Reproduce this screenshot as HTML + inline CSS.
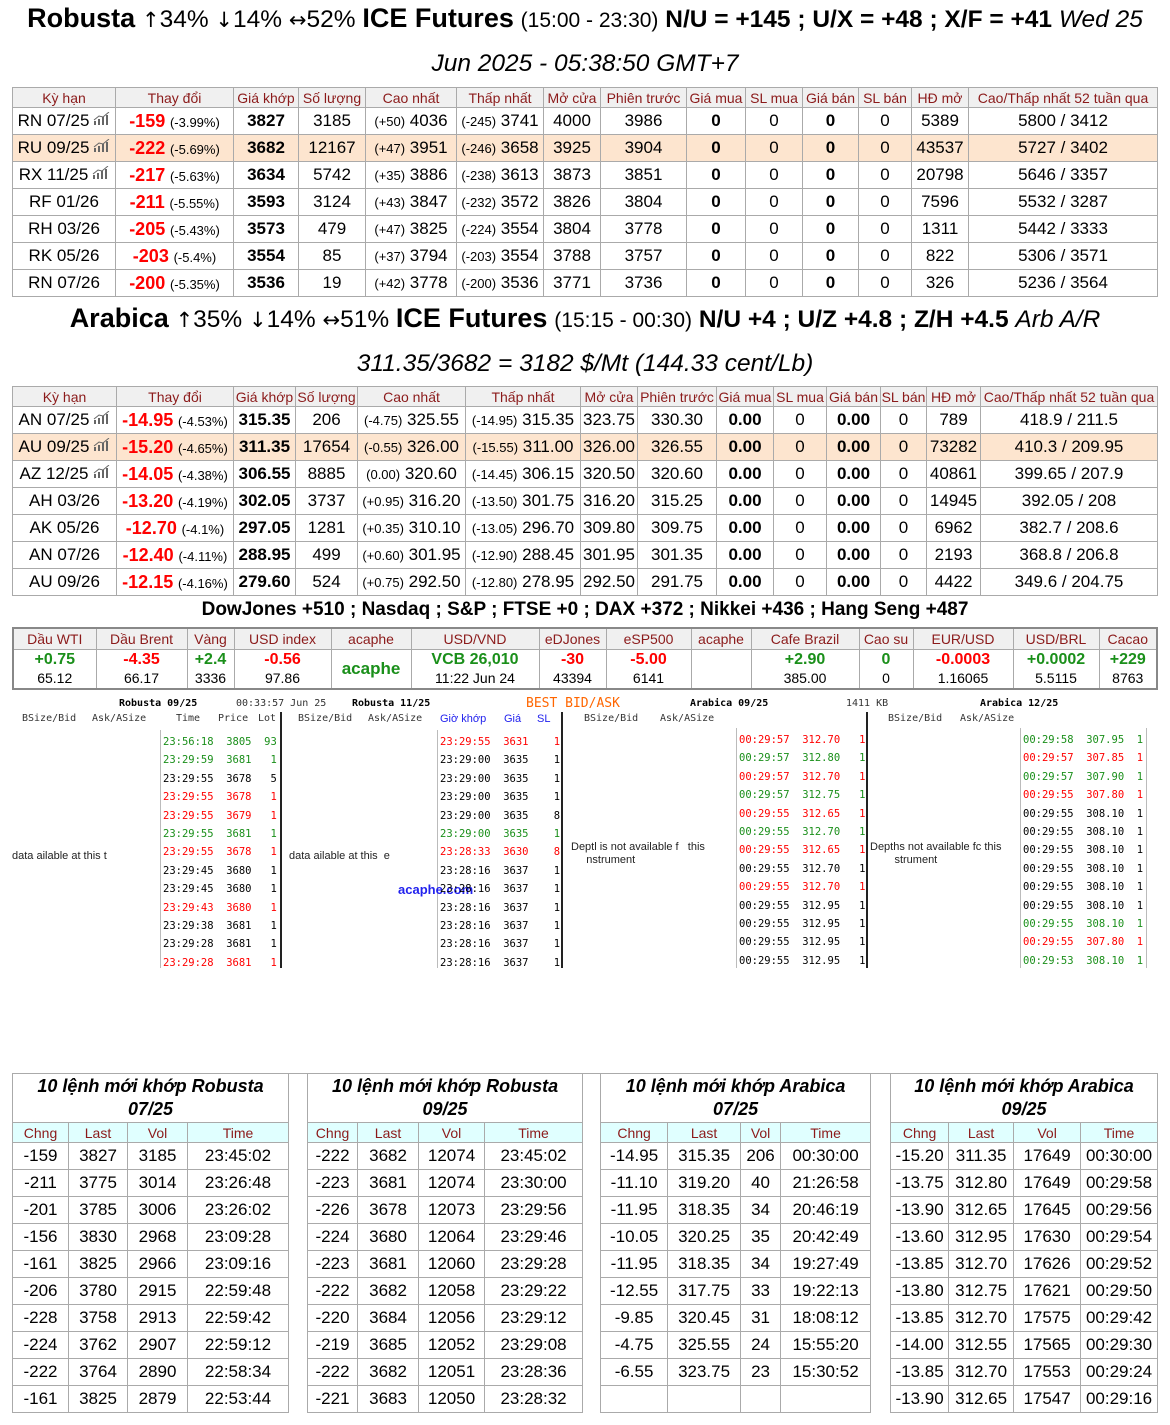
<!DOCTYPE html>
<html><head><meta charset="utf-8"><style>
*{box-sizing:border-box;margin:0;padding:0}
body{width:1170px;height:1425px;background:#fff;font-family:"Liberation Sans",sans-serif;color:#000;position:relative;overflow:hidden}
.abs{position:absolute}
.ttl{position:absolute;left:0;width:1170px;text-align:center;white-space:nowrap;font-size:24.5px}
.ar{font-family:"DejaVu Sans",sans-serif;font-size:21px}
table{border-collapse:collapse;table-layout:fixed;position:absolute}
td,th{border:1px solid #aaa;text-align:center;white-space:nowrap;overflow:hidden;padding:0}
th{font-weight:normal;color:#8b1a1a;background:#f0f0f0;font-size:14px}
.m td{font-size:17px;height:27px}
.m th{height:20px}
.hl td{background:#fde5cf}
.r{color:#f00;font-weight:bold;font-size:18px}
.s{font-size:13px}
.b{font-weight:bold}
.g{color:#1a8f1a}
.rc{color:#f00}
.ic{display:inline-block;width:17px;height:13px;vertical-align:1px;margin-left:4px}
.mono{font-family:"DejaVu Sans Mono","Liberation Mono",monospace;font-size:10px;position:absolute;white-space:nowrap}
.dr{position:absolute;font-family:"DejaVu Sans Mono","Liberation Mono",monospace;font-size:10.5px;white-space:pre}
.vl{position:absolute;width:1px;background:#bbb}
.tl{position:absolute;width:2px;background:#222}
.bt td{font-size:17px;height:27px}
.bt th{height:20px;background:#e0ffff}
.bt .h td{height:49px;font-style:italic;font-weight:bold;font-size:18px;line-height:23px;white-space:nowrap}
.bt td.sp,.bt th.sp{border-bottom:none;background:#fff}
.bt tr+tr td.sp,.bt tr+tr th.sp{border-top:none}
</style></head><body>
<svg width="0" height="0" style="position:absolute"><defs><g id="ic"><rect x="1" y="9" width="2" height="4" fill="#666"/><rect x="5" y="7" width="2" height="6" fill="#666"/><rect x="9" y="5" width="2" height="8" fill="#666"/><rect x="13" y="3" width="2" height="10" fill="#666"/><path d="M1 8 L6 4 L10 5 L16 0" stroke="#666" fill="none"/></g></defs></svg>

<div class="ttl" style="top:3px"><b style="font-size:27px">Robusta</b> <span class="ar">↑</span>34% <span class="ar">↓</span>14% <span class="ar">↔</span>52% <b style="font-size:27px">ICE Futures</b> <span style="font-size:21px">(15:00 - 23:30)</span> <b>N/U = +145 ; U/X = +48 ; X/F = +41</b> <i>Wed 25</i></div>
<div class="ttl" style="top:50px"><i>Jun 2025 - 05:38:50 GMT+7</i></div>

<table class="m" style="left:12px;top:87px;width:1146px">
<colgroup><col style="width:103px"><col style="width:118px"><col style="width:65px"><col style="width:67px"><col style="width:91px"><col style="width:87px"><col style="width:57px"><col style="width:86px"><col style="width:59px"><col style="width:57px"><col style="width:56px"><col style="width:53px"><col style="width:57px"><col></colgroup>
<tr><th>Kỳ hạn</th><th>Thay đổi</th><th>Giá khớp</th><th>Số lượng</th><th>Cao nhất</th><th>Thấp nhất</th><th>Mở cửa</th><th>Phiên trước</th><th>Giá mua</th><th>SL mua</th><th>Giá bán</th><th>SL bán</th><th>HĐ mở</th><th>Cao/Thấp nhất 52 tuần qua</th></tr>
<tr><td>RN 07/25<svg class="ic"><use href="#ic"/></svg></td><td><span class="r">-159</span> <span class="s">(-3.99%)</span></td><td class="b">3827</td><td>3185</td><td><span class="s">(+50)</span> 4036</td><td><span class="s">(-245)</span> 3741</td><td>4000</td><td>3986</td><td class="b">0</td><td>0</td><td class="b">0</td><td>0</td><td>5389</td><td>5800 / 3412</td></tr>
<tr class="hl"><td>RU 09/25<svg class="ic"><use href="#ic"/></svg></td><td><span class="r">-222</span> <span class="s">(-5.69%)</span></td><td class="b">3682</td><td>12167</td><td><span class="s">(+47)</span> 3951</td><td><span class="s">(-246)</span> 3658</td><td>3925</td><td>3904</td><td class="b">0</td><td>0</td><td class="b">0</td><td>0</td><td>43537</td><td>5727 / 3402</td></tr>
<tr><td>RX 11/25<svg class="ic"><use href="#ic"/></svg></td><td><span class="r">-217</span> <span class="s">(-5.63%)</span></td><td class="b">3634</td><td>5742</td><td><span class="s">(+35)</span> 3886</td><td><span class="s">(-238)</span> 3613</td><td>3873</td><td>3851</td><td class="b">0</td><td>0</td><td class="b">0</td><td>0</td><td>20798</td><td>5646 / 3357</td></tr>
<tr><td>RF 01/26</td><td><span class="r">-211</span> <span class="s">(-5.55%)</span></td><td class="b">3593</td><td>3124</td><td><span class="s">(+43)</span> 3847</td><td><span class="s">(-232)</span> 3572</td><td>3826</td><td>3804</td><td class="b">0</td><td>0</td><td class="b">0</td><td>0</td><td>7596</td><td>5532 / 3287</td></tr>
<tr><td>RH 03/26</td><td><span class="r">-205</span> <span class="s">(-5.43%)</span></td><td class="b">3573</td><td>479</td><td><span class="s">(+47)</span> 3825</td><td><span class="s">(-224)</span> 3554</td><td>3804</td><td>3778</td><td class="b">0</td><td>0</td><td class="b">0</td><td>0</td><td>1311</td><td>5442 / 3333</td></tr>
<tr><td>RK 05/26</td><td><span class="r">-203</span> <span class="s">(-5.4%)</span></td><td class="b">3554</td><td>85</td><td><span class="s">(+37)</span> 3794</td><td><span class="s">(-203)</span> 3554</td><td>3788</td><td>3757</td><td class="b">0</td><td>0</td><td class="b">0</td><td>0</td><td>822</td><td>5306 / 3571</td></tr>
<tr><td>RN 07/26</td><td><span class="r">-200</span> <span class="s">(-5.35%)</span></td><td class="b">3536</td><td>19</td><td><span class="s">(+42)</span> 3778</td><td><span class="s">(-200)</span> 3536</td><td>3771</td><td>3736</td><td class="b">0</td><td>0</td><td class="b">0</td><td>0</td><td>326</td><td>5236 / 3564</td></tr>
</table>

<div class="ttl" style="top:303px"><b style="font-size:27px">Arabica</b> <span class="ar">↑</span>35% <span class="ar">↓</span>14% <span class="ar">↔</span>51% <b style="font-size:27px">ICE Futures</b> <span style="font-size:21px">(15:15 - 00:30)</span> <b>N/U +4 ; U/Z +4.8 ; Z/H +4.5</b> <i>Arb A/R</i></div>
<div class="ttl" style="top:350px"><i>311.35/3682 = 3182 $/Mt (144.33 cent/Lb)</i></div>

<table class="m" style="left:12px;top:386px;width:1146px">
<colgroup><col style="width:104px"><col style="width:117px"><col style="width:62px"><col style="width:62px"><col style="width:108px"><col style="width:115px"><col style="width:57px"><col style="width:79px"><col style="width:57px"><col style="width:53px"><col style="width:54px"><col style="width:46px"><col style="width:54px"><col></colgroup>
<tr><th>Kỳ hạn</th><th>Thay đổi</th><th>Giá khớp</th><th>Số lượng</th><th>Cao nhất</th><th>Thấp nhất</th><th>Mở cửa</th><th>Phiên trước</th><th>Giá mua</th><th>SL mua</th><th>Giá bán</th><th>SL bán</th><th>HĐ mở</th><th>Cao/Thấp nhất 52 tuần qua</th></tr>
<tr><td>AN 07/25<svg class="ic"><use href="#ic"/></svg></td><td><span class="r">-14.95</span> <span class="s">(-4.53%)</span></td><td class="b">315.35</td><td>206</td><td><span class="s">(-4.75)</span> 325.55</td><td><span class="s">(-14.95)</span> 315.35</td><td>323.75</td><td>330.30</td><td class="b">0.00</td><td>0</td><td class="b">0.00</td><td>0</td><td>789</td><td>418.9 / 211.5</td></tr>
<tr class="hl"><td>AU 09/25<svg class="ic"><use href="#ic"/></svg></td><td><span class="r">-15.20</span> <span class="s">(-4.65%)</span></td><td class="b">311.35</td><td>17654</td><td><span class="s">(-0.55)</span> 326.00</td><td><span class="s">(-15.55)</span> 311.00</td><td>326.00</td><td>326.55</td><td class="b">0.00</td><td>0</td><td class="b">0.00</td><td>0</td><td>73282</td><td>410.3 / 209.95</td></tr>
<tr><td>AZ 12/25<svg class="ic"><use href="#ic"/></svg></td><td><span class="r">-14.05</span> <span class="s">(-4.38%)</span></td><td class="b">306.55</td><td>8885</td><td><span class="s">(0.00)</span> 320.60</td><td><span class="s">(-14.45)</span> 306.15</td><td>320.50</td><td>320.60</td><td class="b">0.00</td><td>0</td><td class="b">0.00</td><td>0</td><td>40861</td><td>399.65 / 207.9</td></tr>
<tr><td>AH 03/26</td><td><span class="r">-13.20</span> <span class="s">(-4.19%)</span></td><td class="b">302.05</td><td>3737</td><td><span class="s">(+0.95)</span> 316.20</td><td><span class="s">(-13.50)</span> 301.75</td><td>316.20</td><td>315.25</td><td class="b">0.00</td><td>0</td><td class="b">0.00</td><td>0</td><td>14945</td><td>392.05 / 208</td></tr>
<tr><td>AK 05/26</td><td><span class="r">-12.70</span> <span class="s">(-4.1%)</span></td><td class="b">297.05</td><td>1281</td><td><span class="s">(+0.35)</span> 310.10</td><td><span class="s">(-13.05)</span> 296.70</td><td>309.80</td><td>309.75</td><td class="b">0.00</td><td>0</td><td class="b">0.00</td><td>0</td><td>6962</td><td>382.7 / 208.6</td></tr>
<tr><td>AN 07/26</td><td><span class="r">-12.40</span> <span class="s">(-4.11%)</span></td><td class="b">288.95</td><td>499</td><td><span class="s">(+0.60)</span> 301.95</td><td><span class="s">(-12.90)</span> 288.45</td><td>301.95</td><td>301.35</td><td class="b">0.00</td><td>0</td><td class="b">0.00</td><td>0</td><td>2193</td><td>368.8 / 206.8</td></tr>
<tr><td>AU 09/26</td><td><span class="r">-12.15</span> <span class="s">(-4.16%)</span></td><td class="b">279.60</td><td>524</td><td><span class="s">(+0.75)</span> 292.50</td><td><span class="s">(-12.80)</span> 278.95</td><td>292.50</td><td>291.75</td><td class="b">0.00</td><td>0</td><td class="b">0.00</td><td>0</td><td>4422</td><td>349.6 / 204.75</td></tr>
</table>

<div class="ttl" style="top:599px;font-size:19px;font-weight:bold">DowJones +510 ; Nasdaq ; S&amp;P ; FTSE +0 ; DAX +372 ; Nikkei +436 ; Hang Seng +487</div>

<table style="left:12px;top:627px;width:1146px;border:2px solid #888">
<colgroup><col style="width:83px"><col style="width:91px"><col style="width:47px"><col style="width:97px"><col style="width:80px"><col style="width:128px"><col style="width:67px"><col style="width:85px"><col style="width:60px"><col style="width:108px"><col style="width:54px"><col style="width:100px"><col style="width:86px"><col></colgroup>
<tr><th style="height:21px">Dầu WTI</th><th>Dầu Brent</th><th>Vàng</th><th>USD index</th><th>acaphe</th><th>USD/VND</th><th>eDJones</th><th>eSP500</th><th>acaphe</th><th>Cafe Brazil</th><th>Cao su</th><th>EUR/USD</th><th>USD/BRL</th><th>Cacao</th></tr>
<tr style="height:40px;font-size:14px;line-height:18px">
<td><b class="g" style="font-size:16px">+0.75</b><br>65.12</td>
<td><b class="rc" style="font-size:16px">-4.35</b><br>66.17</td>
<td><b class="g" style="font-size:16px">+2.4</b><br>3336</td>
<td><b class="rc" style="font-size:16px">-0.56</b><br>97.86</td>
<td><b class="g" style="font-size:17px">acaphe</b></td>
<td><b class="g" style="font-size:16px">VCB 26,010</b><br>11:22 Jun 24</td>
<td><b class="rc" style="font-size:16px">-30</b><br>43394</td>
<td><b class="rc" style="font-size:16px">-5.00</b><br>6141</td>
<td></td>
<td><b class="g" style="font-size:16px">+2.90</b><br>385.00</td>
<td><b class="g" style="font-size:16px">0</b><br>0</td>
<td><b class="rc" style="font-size:16px">-0.0003</b><br>1.16065</td>
<td><b class="g" style="font-size:16px">+0.0002</b><br>5.5115</td>
<td><b class="g" style="font-size:16px">+229</b><br>8763</td></tr>
</table>

<!-- depth panels -->
<div class="mono" style="left:119px;top:698px;font-weight:bold">Robusta 09/25</div>
<div class="mono" style="left:236px;top:698px;color:#333">00:33:57 Jun 25</div>
<div class="mono" style="left:352px;top:698px;font-weight:bold">Robusta 11/25</div>
<div class="abs" style="left:526px;top:696px;font-family:'DejaVu Sans Mono',monospace;font-size:13px;color:#f60">BEST BID/ASK</div>
<div class="mono" style="left:690px;top:698px;font-weight:bold">Arabica 09/25</div>
<div class="mono" style="left:846px;top:698px;color:#333">1411 KB</div>
<div class="mono" style="left:980px;top:698px;font-weight:bold">Arabica 12/25</div>

<div class="mono" style="left:22px;top:713px;color:#333">BSize/Bid</div>
<div class="mono" style="left:92px;top:713px;color:#333">Ask/ASize</div>
<div class="mono" style="left:176px;top:713px;color:#333">Time</div>
<div class="mono" style="left:218px;top:713px;color:#333">Price</div>
<div class="mono" style="left:258px;top:713px;color:#333">Lot</div>
<div class="mono" style="left:298px;top:713px;color:#333">BSize/Bid</div>
<div class="mono" style="left:368px;top:713px;color:#333">Ask/ASize</div>
<div class="abs" style="left:440px;top:713px;font-size:11px;color:#22e">Giờ khớp</div>
<div class="abs" style="left:504px;top:713px;font-size:11px;color:#22e">Giá</div>
<div class="abs" style="left:537px;top:713px;font-size:11px;color:#22e">SL</div>
<div class="mono" style="left:584px;top:713px;color:#333">BSize/Bid</div>
<div class="mono" style="left:660px;top:713px;color:#333">Ask/ASize</div>
<div class="mono" style="left:888px;top:713px;color:#333">BSize/Bid</div>
<div class="mono" style="left:960px;top:713px;color:#333">Ask/ASize</div>

<div class="vl" style="left:160px;top:730px;height:238px"></div>
<div class="tl" style="left:280px;top:712px;height:256px"></div>
<div class="vl" style="left:437px;top:730px;height:238px"></div>
<div class="tl" style="left:561px;top:712px;height:256px"></div>
<div class="vl" style="left:736px;top:728px;height:240px"></div>
<div class="tl" style="left:866px;top:712px;height:256px"></div>
<div class="vl" style="left:1020px;top:728px;height:240px"></div>
<div class="vl" style="left:1146px;top:728px;height:240px"></div>

<div class="abs" style="left:12px;top:850px;font-size:11px;color:#222">data ailable at this t</div>
<div class="abs" style="left:289px;top:850px;font-size:11px;color:#222">data ailable at this &nbsp;e</div>
<div class="abs" style="left:571px;top:841px;font-size:11px;color:#222;line-height:13px">Deptl is not available f&nbsp;&nbsp; this<br>&nbsp;&nbsp;&nbsp;&nbsp;&nbsp;nstrument</div>
<div class="abs" style="left:870px;top:841px;font-size:11px;color:#222;line-height:13px">Depths not available fc this<br>&nbsp;&nbsp;&nbsp;&nbsp;&nbsp;&nbsp;&nbsp;&nbsp;strument</div>
<div class="abs" style="left:398px;top:882px;font-size:13px;font-weight:bold;color:#22e">acaphe.com</div>

<div class="dr" style="left:163px;top:733px;line-height:18.4px"><span class="g">23:56:18  3805  93</span>
<span class="g">23:29:59  3681   1</span>
23:29:55  3678   5
<span class="rc">23:29:55  3678   1</span>
<span class="rc">23:29:55  3679   1</span>
<span class="g">23:29:55  3681   1</span>
<span class="rc">23:29:55  3678   1</span>
23:29:45  3680   1
23:29:45  3680   1
<span class="rc">23:29:43  3680   1</span>
23:29:38  3681   1
23:29:28  3681   1
<span class="rc">23:29:28  3681   1</span></div>

<div class="dr" style="left:440px;top:733px;line-height:18.4px"><span class="rc">23:29:55  3631    1</span>
23:29:00  3635    1
23:29:00  3635    1
23:29:00  3635    1
23:29:00  3635    8
<span class="g">23:29:00  3635    1</span>
<span class="rc">23:28:33  3630    8</span>
23:28:16  3637    1
23:28:16  3637    1
23:28:16  3637    1
23:28:16  3637    1
23:28:16  3637    1
23:28:16  3637    1</div>

<div class="dr" style="left:739px;top:731px;line-height:18.4px"><span class="rc">00:29:57  312.70   1</span>
<span class="g">00:29:57  312.80   1</span>
<span class="rc">00:29:57  312.70   1</span>
<span class="g">00:29:57  312.75   1</span>
<span class="rc">00:29:55  312.65   1</span>
<span class="g">00:29:55  312.70   1</span>
<span class="rc">00:29:55  312.65   1</span>
00:29:55  312.70   1
<span class="rc">00:29:55  312.70   1</span>
00:29:55  312.95   1
00:29:55  312.95   1
00:29:55  312.95   1
00:29:55  312.95   1</div>

<div class="dr" style="left:1023px;top:731px;line-height:18.4px"><span class="g">00:29:58  307.95  1</span>
<span class="rc">00:29:57  307.85  1</span>
<span class="g">00:29:57  307.90  1</span>
<span class="rc">00:29:55  307.80  1</span>
00:29:55  308.10  1
00:29:55  308.10  1
00:29:55  308.10  1
00:29:55  308.10  1
00:29:55  308.10  1
00:29:55  308.10  1
<span class="g">00:29:55  308.10  1</span>
<span class="rc">00:29:55  307.80  1</span>
<span class="g">00:29:53  308.10  1</span></div>

<!-- bottom tables -->
<table class="bt" style="left:12px;top:1073px;width:1146px">
<colgroup><col style="width:56px"><col style="width:59px"><col style="width:60px"><col style="width:101px"><col style="width:19px"><col style="width:50px"><col style="width:61px"><col style="width:66px"><col style="width:98px"><col style="width:18px"><col style="width:67px"><col style="width:73px"><col style="width:40px"><col style="width:90px"><col style="width:20px"><col style="width:58px"><col style="width:65px"><col style="width:67px"><col></colgroup>
<tr class="h"><td colspan="4">10 lệnh mới khớp Robusta<br>07/25</td><td class="sp"></td><td colspan="4">10 lệnh mới khớp Robusta<br>09/25</td><td class="sp"></td><td colspan="4">10 lệnh mới khớp Arabica<br>07/25</td><td class="sp"></td><td colspan="4">10 lệnh mới khớp Arabica<br>09/25</td></tr>
<tr><th>Chng</th><th>Last</th><th>Vol</th><th>Time</th><th class="sp"></th><th>Chng</th><th>Last</th><th>Vol</th><th>Time</th><th class="sp"></th><th>Chng</th><th>Last</th><th>Vol</th><th>Time</th><th class="sp"></th><th>Chng</th><th>Last</th><th>Vol</th><th>Time</th></tr>
<tr><td>-159</td><td>3827</td><td>3185</td><td>23:45:02</td><td class="sp"></td><td>-222</td><td>3682</td><td>12074</td><td>23:45:02</td><td class="sp"></td><td>-14.95</td><td>315.35</td><td>206</td><td>00:30:00</td><td class="sp"></td><td>-15.20</td><td>311.35</td><td>17649</td><td>00:30:00</td></tr>
<tr><td>-211</td><td>3775</td><td>3014</td><td>23:26:48</td><td class="sp"></td><td>-223</td><td>3681</td><td>12074</td><td>23:30:00</td><td class="sp"></td><td>-11.10</td><td>319.20</td><td>40</td><td>21:26:58</td><td class="sp"></td><td>-13.75</td><td>312.80</td><td>17649</td><td>00:29:58</td></tr>
<tr><td>-201</td><td>3785</td><td>3006</td><td>23:26:02</td><td class="sp"></td><td>-226</td><td>3678</td><td>12073</td><td>23:29:56</td><td class="sp"></td><td>-11.95</td><td>318.35</td><td>34</td><td>20:46:19</td><td class="sp"></td><td>-13.90</td><td>312.65</td><td>17645</td><td>00:29:56</td></tr>
<tr><td>-156</td><td>3830</td><td>2968</td><td>23:09:28</td><td class="sp"></td><td>-224</td><td>3680</td><td>12064</td><td>23:29:46</td><td class="sp"></td><td>-10.05</td><td>320.25</td><td>35</td><td>20:42:49</td><td class="sp"></td><td>-13.60</td><td>312.95</td><td>17630</td><td>00:29:54</td></tr>
<tr><td>-161</td><td>3825</td><td>2966</td><td>23:09:16</td><td class="sp"></td><td>-223</td><td>3681</td><td>12060</td><td>23:29:28</td><td class="sp"></td><td>-11.95</td><td>318.35</td><td>34</td><td>19:27:49</td><td class="sp"></td><td>-13.85</td><td>312.70</td><td>17626</td><td>00:29:52</td></tr>
<tr><td>-206</td><td>3780</td><td>2915</td><td>22:59:48</td><td class="sp"></td><td>-222</td><td>3682</td><td>12058</td><td>23:29:22</td><td class="sp"></td><td>-12.55</td><td>317.75</td><td>33</td><td>19:22:13</td><td class="sp"></td><td>-13.80</td><td>312.75</td><td>17621</td><td>00:29:50</td></tr>
<tr><td>-228</td><td>3758</td><td>2913</td><td>22:59:42</td><td class="sp"></td><td>-220</td><td>3684</td><td>12056</td><td>23:29:12</td><td class="sp"></td><td>-9.85</td><td>320.45</td><td>31</td><td>18:08:12</td><td class="sp"></td><td>-13.85</td><td>312.70</td><td>17575</td><td>00:29:42</td></tr>
<tr><td>-224</td><td>3762</td><td>2907</td><td>22:59:12</td><td class="sp"></td><td>-219</td><td>3685</td><td>12052</td><td>23:29:08</td><td class="sp"></td><td>-4.75</td><td>325.55</td><td>24</td><td>15:55:20</td><td class="sp"></td><td>-14.00</td><td>312.55</td><td>17565</td><td>00:29:30</td></tr>
<tr><td>-222</td><td>3764</td><td>2890</td><td>22:58:34</td><td class="sp"></td><td>-222</td><td>3682</td><td>12051</td><td>23:28:36</td><td class="sp"></td><td>-6.55</td><td>323.75</td><td>23</td><td>15:30:52</td><td class="sp"></td><td>-13.85</td><td>312.70</td><td>17553</td><td>00:29:24</td></tr>
<tr><td>-161</td><td>3825</td><td>2879</td><td>22:53:44</td><td class="sp"></td><td>-221</td><td>3683</td><td>12050</td><td>23:28:32</td><td class="sp"></td><td></td><td></td><td></td><td></td><td class="sp"></td><td>-13.90</td><td>312.65</td><td>17547</td><td>00:29:16</td></tr>
</table>
</body></html>
